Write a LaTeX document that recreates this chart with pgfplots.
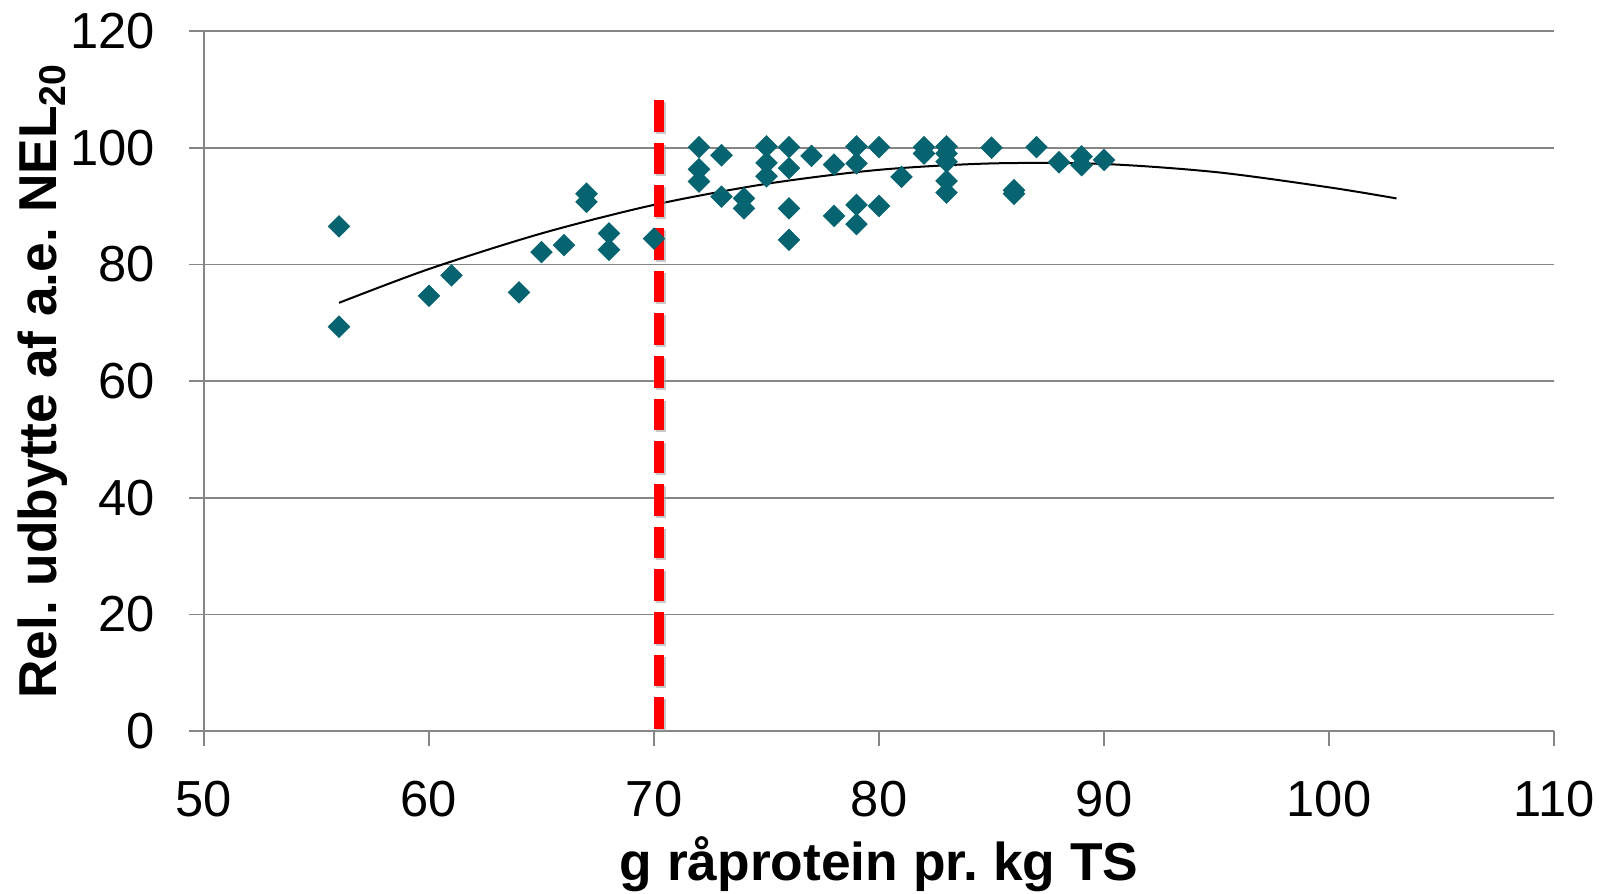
\documentclass[border=0pt]{standalone}
\usepackage{pgfplots}
\pgfplotsset{compat=1.18}
\usepackage{fontspec}
\setmainfont{Liberation Sans}
\definecolor{teal}{RGB}{6,100,112}
\definecolor{gridgray}{RGB}{134,134,134}
\definecolor{redline}{RGB}{255,0,0}

\begin{document}
\begin{tikzpicture}
\begin{axis}[
    name=ax,
    scale only axis,
    width=405pt,
    height=210pt,
    xmin=50, xmax=110,
    ymin=0, ymax=120,
    xtick={50,60,...,110},
    ytick={0,20,...,120},
    axis lines*=left,
    axis line style={gridgray, line width=0.5pt},
    ymajorgrids,
    grid style={gridgray, line width=0.5pt},
    tick align=outside,
    major tick length=4.5pt,
    tick style={gridgray, line width=0.5pt},
    /pgf/number format/assume math mode=true,
    ticklabel style={font=\fontsize{15.2}{18}\selectfont},
    xticklabel style={anchor=north, inner sep=0pt, yshift=-10.2pt},
    yticklabel style={anchor=east, inner sep=0pt, xshift=-10pt},
    xlabel={g råprotein pr.\ kg TS},
    ylabel={Rel.\ udbytte af a.e.\ NEL\textsubscript{20}},
    xlabel style={font=\fontsize{16}{19}\selectfont\bfseries, inner sep=0pt,
        at={([yshift=-44.7pt]axis description cs:0.5,0)}, anchor=base},
    ylabel style={font=\fontsize{16}{19}\selectfont\bfseries, inner sep=0pt,
        at={([xshift=-44.1pt]axis description cs:0,0.5)}, anchor=base},
    clip=false,
]
% trend line
\addplot [black, line width=0.6pt, smooth] coordinates {
    (56,73.4) (60,79.2) (65,85.3) (70,90.2) (75,93.8) (80,96.2)
    (85,97.3) (90,97.2) (95,95.8) (100,93.2) (103,91.3)
};
% data points
\addplot [only marks, mark=square*, mark size=2.2pt,
    mark options={rotate=45, fill=teal, draw=teal}] coordinates {
    (56,86.5) (56,69.3) (60,74.6) (61,78.1) (64,75.2) (65,82.1) (66,83.3)
    (67,92.1) (67,90.7) (68,85.3) (68,82.5) (70,84.4)
    (72,100.1) (72,96.3) (72,94.2)
    (73,98.7) (73,91.6)
    (74,91.3) (74,89.6)
    (75,100.2) (75,97.4) (75,95.1)
    (76,100.1) (76,96.5) (76,89.6) (76,84.2)
    (77,98.6)
    (78,97.1) (78,88.3)
    (79,100.2) (79,97.3) (79,90.2) (79,86.9)
    (80,100.1) (80,90.0)
    (81,95.0)
    (82,100.1) (82,99.0)
    (83,100.2) (83,99.0) (83,97.6) (83,94.3) (83,92.3)
    (85,100.0)
    (86,92.7) (86,92.1)
    (87,100.1)
    (88,97.5)
    (89,98.5) (89,97.0)
    (90,97.9)
};
% threshold line, with a faint shadow
\addplot [black!35, opacity=0.6, line width=3pt, dash pattern=on 9.5pt off 3.3pt,
    forget plot, shift={(0.6pt,-0.6pt)}] coordinates {(70.2,108.2) (70.2,0)};
\addplot [redline, line width=3pt, dash pattern=on 9.5pt off 3.3pt]
    coordinates {(70.2,108.2) (70.2,0)};
\end{axis}
\path ([shift={(-61.2pt,-48.6pt)}]ax.south west) rectangle ([shift={(18pt,9.3pt)}]ax.north east);
\end{tikzpicture}
\end{document}
